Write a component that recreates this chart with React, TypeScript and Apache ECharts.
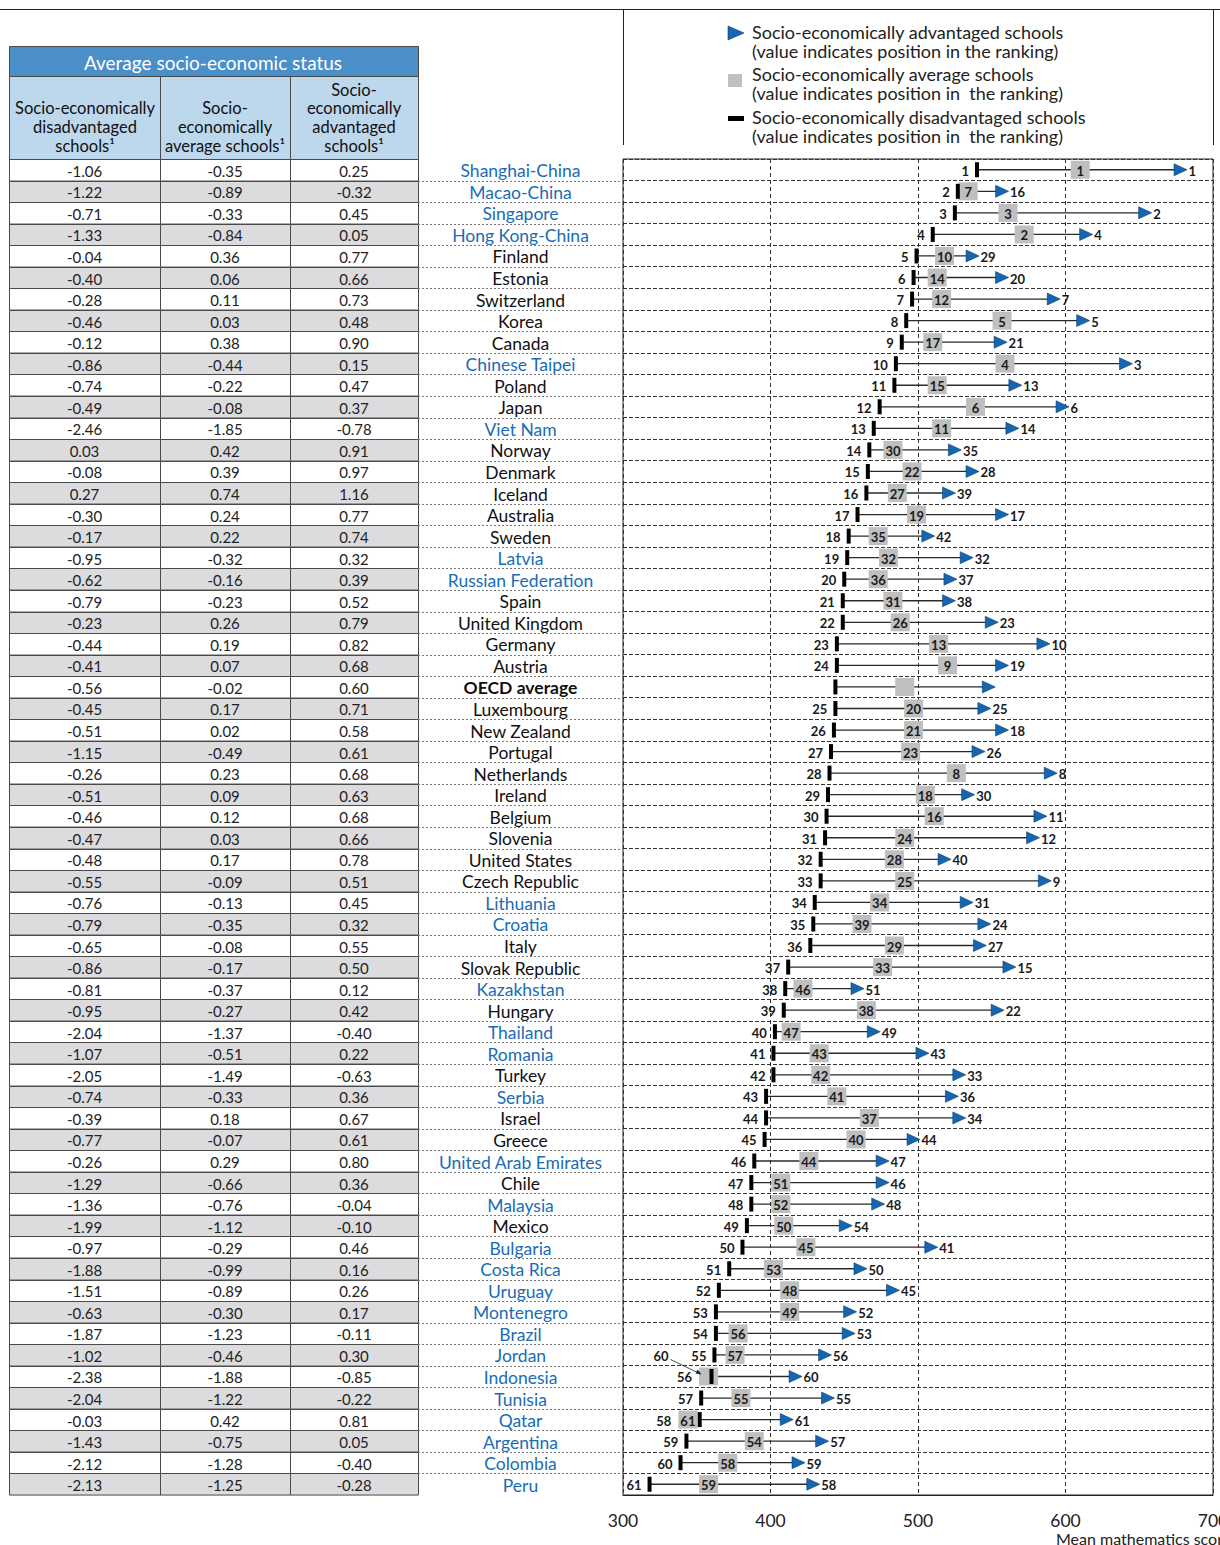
import { useEffect, useRef } from "react";
import * as echarts from "echarts";

const countries = [
  "Shanghai-China", "Macao-China", "Singapore", "Hong Kong-China", "Finland", "Estonia", "Switzerland", "Korea",
  "Canada", "Chinese Taipei", "Poland", "Japan", "Viet Nam", "Norway", "Denmark", "Iceland", "Australia", "Sweden",
  "Latvia", "Russian Federation", "Spain", "United Kingdom", "Germany", "Austria", "OECD average", "Luxembourg",
  "New Zealand", "Portugal", "Netherlands", "Ireland", "Belgium", "Slovenia", "United States", "Czech Republic",
  "Lithuania", "Croatia", "Italy", "Slovak Republic", "Kazakhstan", "Hungary", "Thailand", "Romania", "Turkey",
  "Serbia", "Israel", "Greece", "United Arab Emirates", "Chile", "Malaysia", "Mexico", "Bulgaria", "Costa Rica",
  "Uruguay", "Montenegro", "Brazil", "Jordan", "Indonesia", "Tunisia", "Qatar", "Argentina", "Colombia", "Peru",
];

const partners = [
  "Shanghai-China", "Macao-China", "Singapore", "Hong Kong-China", "Chinese Taipei", "Viet Nam", "Latvia",
  "Russian Federation", "Lithuania", "Croatia", "Kazakhstan", "Thailand", "Romania", "Serbia",
  "United Arab Emirates", "Malaysia", "Bulgaria", "Costa Rica", "Uruguay", "Montenegro", "Brazil", "Jordan",
  "Indonesia", "Tunisia", "Qatar", "Argentina", "Colombia", "Peru",
];

const escsDis = [
  -1.06, -1.22, -0.71, -1.33, -0.04, -0.40, -0.28, -0.46, -0.12, -0.86, -0.74, -0.49, -2.46, 0.03, -0.08, 0.27,
  -0.30, -0.17, -0.95, -0.62, -0.79, -0.23, -0.44, -0.41, -0.56, -0.45, -0.51, -1.15, -0.26, -0.51, -0.46, -0.47,
  -0.48, -0.55, -0.76, -0.79, -0.65, -0.86, -0.81, -0.95, -2.04, -1.07, -2.05, -0.74, -0.39, -0.77, -0.26, -1.29,
  -1.36, -1.99, -0.97, -1.88, -1.51, -0.63, -1.87, -1.02, -2.38, -2.04, -0.03, -1.43, -2.12, -2.13,
];
const escsAvg = [
  -0.35, -0.89, -0.33, -0.84, 0.36, 0.06, 0.11, 0.03, 0.38, -0.44, -0.22, -0.08, -1.85, 0.42, 0.39, 0.74,
  0.24, 0.22, -0.32, -0.16, -0.23, 0.26, 0.19, 0.07, -0.02, 0.17, 0.02, -0.49, 0.23, 0.09, 0.12, 0.03,
  0.17, -0.09, -0.13, -0.35, -0.08, -0.17, -0.37, -0.27, -1.37, -0.51, -1.49, -0.33, 0.18, -0.07, 0.29, -0.66,
  -0.76, -1.12, -0.29, -0.99, -0.89, -0.30, -1.23, -0.46, -1.88, -1.22, 0.42, -0.75, -1.28, -1.25,
];
const escsAdv = [
  0.25, -0.32, 0.45, 0.05, 0.77, 0.66, 0.73, 0.48, 0.90, 0.15, 0.47, 0.37, -0.78, 0.91, 0.97, 1.16,
  0.77, 0.74, 0.32, 0.39, 0.52, 0.79, 0.82, 0.68, 0.60, 0.71, 0.58, 0.61, 0.68, 0.63, 0.68, 0.66,
  0.78, 0.51, 0.45, 0.32, 0.55, 0.50, 0.12, 0.42, -0.40, 0.22, -0.63, 0.36, 0.67, 0.61, 0.80, 0.36,
  -0.04, -0.10, 0.46, 0.16, 0.26, 0.17, -0.11, 0.30, -0.85, -0.22, 0.81, 0.05, -0.40, -0.28,
];

const scoreDis = [
  540, 527, 525, 510, 499, 497, 496, 492, 489, 485, 484, 474, 470, 467, 466, 465, 459, 453, 452, 450, 449, 449,
  445, 445, 444, 444, 443, 441, 440, 439, 438, 437, 434, 434, 430, 429, 427, 412, 410, 409, 403, 402, 402, 397,
  397, 396, 389, 387, 387, 384, 381, 372, 365, 363, 363, 362, 360, 353, 352, 343, 339, 318,
];
const scoreAvg = [
  610, 534, 561, 572, 518, 513, 516, 557, 510, 559, 513, 539, 516, 483, 496, 486, 499, 473, 480, 473, 483, 488,
  514, 520, 491, 497, 497, 495, 526, 505, 511, 491, 484, 491, 474, 462, 484, 476, 422, 465, 414, 433, 434, 445,
  467, 458, 426, 407, 407, 409, 424, 402, 413, 413, 378, 376, 358, 380, 344, 389, 371, 358,
];
const scoreAdv = [
  678, 557, 654, 614, 537, 557, 592, 612, 556, 641, 566, 598, 564, 525, 537, 521, 557, 507, 533, 522, 521, 550,
  585, 557, 548, 545, 557, 541, 590, 534, 583, 578, 518, 586, 533, 545, 542, 562, 459, 554, 470, 503, 528, 523,
  528, 497, 476, 476, 473, 451, 509, 461, 483, 454, 453, 437, 417, 439, 411, 435, 419, 429,
];

const rankDis = [
  1, 2, 3, 4, 5, 6, 7, 8, 9, 10, 11, 12, 13, 14, 15, 16, 17, 18, 19, 20, 21, 22, 23, 24, null, 25, 26, 27, 28, 29,
  30, 31, 32, 33, 34, 35, 36, 37, 38, 39, 40, 41, 42, 43, 44, 45, 46, 47, 48, 49, 50, 51, 52, 53, 54, 55, 56, 57,
  58, 59, 60, 61,
];
const rankAvg = [
  1, 7, 3, 2, 10, 14, 12, 5, 17, 4, 15, 6, 11, 30, 22, 27, 19, 35, 32, 36, 31, 26, 13, 9, null, 20, 21, 23, 8, 18,
  16, 24, 28, 25, 34, 39, 29, 33, 46, 38, 47, 43, 42, 41, 37, 40, 44, 51, 52, 50, 45, 53, 48, 49, 56, 57, 60, 55,
  61, 54, 58, 59,
];
const rankAdv = [
  1, 16, 2, 4, 29, 20, 7, 5, 21, 3, 13, 6, 14, 35, 28, 39, 17, 42, 32, 37, 38, 23, 10, 19, null, 25, 18, 26, 8, 30,
  11, 12, 40, 9, 31, 24, 27, 15, 51, 22, 49, 43, 33, 36, 34, 44, 47, 46, 48, 54, 41, 50, 45, 52, 53, 56, 60, 55,
  61, 57, 59, 58,
];
const avgCalloutRows = ["Indonesia"];

const xTicks = [300, 400, 500, 600, 700];
const tableColumnEdges = [0, 151, 281, 409];
const headerTitle = "Average socio-economic status";
const headerCols = [
  ["Socio-economically", "disadvantaged", "schools\u00b9"],
  ["Socio-", "economically", "average schools\u00b9"],
  ["Socio-", "economically", "advantaged", "schools\u00b9"],
];
const legendItems = [
  ["Socio-economically advantaged schools", "(value indicates position in the ranking)"],
  ["Socio-economically average schools", "(value indicates position in  the ranking)"],
  ["Socio-economically disadvantaged schools", "(value indicates position in  the ranking)"],
];
const axisTitle = "Mean mathematics score";

const FONT = "Lato, 'Open Sans', sans-serif";
const BLUE = "#1a6cb4";
const TRI = "#1565b0";
const GRAY_SQ = "#bfbfbf";
const ROW_GRAY = "#dcdcde";
const TOP = 159;
const BOTTOM = 50;

function fmt(v: number) {
  return v.toFixed(2);
}

function buildOption() {
  const n = countries.length;
  const rowIdx = countries.map((_, i) => i);

  const tableSeries = {
    type: "custom",
    xAxisIndex: 0,
    yAxisIndex: 0,
    data: rowIdx.map((i) => [0, i]),
    encode: { x: 0, y: 1 },
    renderItem: (params: any, api: any) => {
      const i = params.dataIndex;
      const c = api.coord([0, i]);
      const h = api.size([0, 1])[1];
      const top = c[1] - h / 2;
      const vals = [escsDis[i], escsAvg[i], escsAdv[i]];
      const children: any[] = [];
      for (let k = 0; k < 3; k++) {
        const x0 = api.coord([tableColumnEdges[k], i])[0];
        const x1 = api.coord([tableColumnEdges[k + 1], i])[0];
        children.push({
          type: "rect",
          shape: { x: Math.round(x0) + 0.5, y: Math.round(top) + 0.5, width: Math.round(x1 - x0), height: h },
          style: { fill: i % 2 === 1 ? ROW_GRAY : "#ffffff", stroke: "#4a4a4a", lineWidth: 1 },
        });
        children.push({
          type: "text",
          style: {
            text: fmt(vals[k]),
            x: (x0 + x1) / 2,
            y: c[1] + 1,
            align: "center",
            verticalAlign: "middle",
            fontSize: 15,
            fontFamily: FONT,
            fill: "#222",
          },
        });
      }
      return { type: "group", children };
    },
  };

  const nameSeries = {
    type: "custom",
    xAxisIndex: 1,
    yAxisIndex: 1,
    data: rowIdx.map((i) => [0.5, i]),
    encode: { x: 0, y: 1 },
    renderItem: (params: any, api: any) => {
      const i = params.dataIndex;
      const c = api.coord([0.5, i]);
      const l = api.coord([0, i])[0];
      const r = api.coord([1, i])[0];
      const h = api.size([0, 1])[1];
      const name = countries[i];
      const isOecd = name === "OECD average";
      const children: any[] = [
        {
          type: "text",
          style: {
            text: name,
            x: c[0],
            y: c[1] + 1,
            align: "center",
            verticalAlign: "middle",
            fontSize: 17.5,
            fontWeight: isOecd ? "bold" : "normal",
            fontFamily: FONT,
            fill: partners.includes(name) ? BLUE : "#111",
          },
        },
      ];
      if (i < n - 1) {
        const yb = Math.round(c[1] + h / 2) + 0.5;
        children.push({
          type: "line",
          shape: { x1: l, y1: yb, x2: r, y2: yb },
          style: { stroke: "#777", lineWidth: 1, lineDash: [2, 2] },
        });
      }
      return { type: "group", children };
    },
  };

  const labelStyle = (text: string, x: number, y: number, align: string) => ({
    type: "text",
    style: {
      text,
      x,
      y: y + 1,
      align,
      verticalAlign: "middle",
      fontSize: 13,
      fontWeight: "bold",
      fontFamily: FONT,
      fill: "#1a1a1a",
    },
  });

  const plotSeries = {
    type: "custom",
    xAxisIndex: 2,
    yAxisIndex: 2,
    data: rowIdx.map((i) => [scoreDis[i], scoreAvg[i], scoreAdv[i], i]),
    encode: { x: [0, 1, 2], y: 3 },
    renderItem: (params: any, api: any) => {
      const i = params.dataIndex;
      const pd = api.coord([api.value(0), i]);
      const pa = api.coord([api.value(1), i]);
      const pv = api.coord([api.value(2), i]);
      const cy = pd[1];
      const ch: any[] = [];
      ch.push({
        type: "line",
        shape: { x1: pd[0], y1: cy, x2: pv[0], y2: cy },
        style: { stroke: "#2a2a2a", lineWidth: 1.3 },
      });
      const sqLeft = pa[0] - 9.5;
      ch.push({
        type: "rect",
        shape: { x: sqLeft, y: cy - 9, width: 19, height: 18 },
        style: { fill: GRAY_SQ },
      });
      const ra = rankAvg[i];
      if (ra != null) {
        if (avgCalloutRows.includes(countries[i])) {
          ch.push(labelStyle(String(ra), pa[0] - 40, cy - 21, "right"));
          ch.push({
            type: "line",
            shape: { x1: pa[0] - 38, y1: cy - 17, x2: pa[0] - 9, y2: cy - 3 },
            style: { stroke: "#222", lineWidth: 0.8 },
          });
          ch.push({
            type: "polygon",
            shape: { points: [[pa[0] - 7, cy - 2], [pa[0] - 13, cy - 3], [pa[0] - 11, cy - 7]] },
            style: { fill: "#222" },
          });
        } else {
          ch.push(labelStyle(String(ra), pa[0], cy, "center"));
        }
      }
      ch.push({
        type: "rect",
        shape: { x: pd[0] - 2, y: cy - 7.5, width: 4, height: 15 },
        style: { fill: "#000" },
      });
      ch.push({
        type: "polygon",
        shape: { points: [[pv[0] - 6.5, cy - 6], [pv[0] + 6.5, cy], [pv[0] - 6.5, cy + 6]] },
        style: { fill: TRI, stroke: "#0b3f72", lineWidth: 0.6 },
      });
      const rd = rankDis[i];
      if (rd != null) {
        const lx = sqLeft < pd[0] - 8 ? Math.min(pd[0] - 8, sqLeft - 7) : pd[0] - 8;
        ch.push(labelStyle(String(rd), lx, cy, "right"));
      }
      const rv = rankAdv[i];
      if (rv != null) ch.push(labelStyle(String(rv), pv[0] + 8, cy, "left"));
      return { type: "group", children: ch };
    },
  };

  const graphic: any[] = [
    { type: "line", shape: { x1: 0, y1: 9.5, x2: 1220, y2: 9.5 }, style: { stroke: "#222", lineWidth: 1 } },
    { type: "line", shape: { x1: 623.5, y1: 9, x2: 623.5, y2: 145 }, style: { stroke: "#222", lineWidth: 1 } },
    { type: "line", shape: { x1: 1213.5, y1: 9, x2: 1213.5, y2: 145 }, style: { stroke: "#222", lineWidth: 1 } },
    { type: "rect", shape: { x: 9.5, y: 46.5, width: 409, height: 30 }, style: { fill: "#4a8fc8", stroke: "#4a4a4a", lineWidth: 1 } },
    {
      type: "text",
      x: 213,
      y: 62,
      style: { text: headerTitle, align: "center", verticalAlign: "middle", fontSize: 19, fontFamily: FONT, fill: "#fff" },
    },
    { type: "rect", shape: { x: 9.5, y: 76.5, width: 409, height: 83 }, style: { fill: "#bdd7ec", stroke: "#4a4a4a", lineWidth: 1 } },
    { type: "line", shape: { x1: 160.5, y1: 77, x2: 160.5, y2: 159 }, style: { stroke: "#4a4a4a", lineWidth: 1 } },
    { type: "line", shape: { x1: 290.5, y1: 77, x2: 290.5, y2: 159 }, style: { stroke: "#4a4a4a", lineWidth: 1 } },
  ];
  const colCenters = [85, 225, 354];
  headerCols.forEach((lines, k) => {
    graphic.push({
      type: "text",
      x: colCenters[k],
      y: 155,
      style: {
        text: lines.join("\n"),
        align: "center",
        verticalAlign: "bottom",
        fontSize: 16.5,
        lineHeight: 18.7,
        fontFamily: FONT,
        fill: "#111",
      },
    });
  });
  graphic.push({ type: "polygon", shape: { points: [[728, 26], [744, 33], [728, 40]] }, style: { fill: TRI, stroke: "#0b3f72", lineWidth: 0.6 } });
  graphic.push({ type: "rect", shape: { x: 728, y: 74, width: 14, height: 13 }, style: { fill: GRAY_SQ } });
  graphic.push({ type: "rect", shape: { x: 728, y: 116, width: 16, height: 5 }, style: { fill: "#000" } });
  const legendY = [32, 74, 117];
  legendItems.forEach((lines, k) => {
    graphic.push({
      type: "text",
      x: 752,
      y: legendY[k] - 9.25,
      style: {
        text: lines.join("\n"),
        align: "left",
        verticalAlign: "top",
        fontSize: 18,
        lineHeight: 18.5,
        fontFamily: FONT,
        fill: "#222",
      },
    });
  });
  graphic.push({
    type: "text",
    x: 1056,
    y: 1538,
    style: { text: axisTitle, align: "left", verticalAlign: "middle", fontSize: 16, fontFamily: FONT, fill: "#222" },
  });

  const hiddenY = (gi: number) => ({
    gridIndex: gi,
    type: "category",
    data: countries,
    inverse: true,
    show: false,
  });

  return {
    animation: false,
    grid: [
      { left: 9, width: 409, top: TOP, bottom: BOTTOM, outerBoundsMode: "none" },
      { left: 418, width: 205, top: TOP, bottom: BOTTOM, outerBoundsMode: "none" },
      {
        left: 623,
        width: 590,
        top: TOP,
        bottom: BOTTOM,
        outerBoundsMode: "none",
        containLabel: false,
        show: true,
        borderColor: "#222",
        borderWidth: 1,
        backgroundColor: "transparent",
      },
    ],
    xAxis: [
      { gridIndex: 0, type: "value", min: 0, max: tableColumnEdges[3], show: false },
      { gridIndex: 1, type: "value", min: 0, max: 1, show: false },
      {
        gridIndex: 2,
        type: "value",
        min: xTicks[0],
        max: xTicks[xTicks.length - 1],
        interval: 100,
        axisLine: { show: true, lineStyle: { color: "#222" } },
        axisTick: { show: false },
        axisLabel: { fontSize: 17.5, color: "#222", fontFamily: FONT, margin: 16 },
        splitLine: { show: true, lineStyle: { color: "#333", type: [4, 3], width: 1 } },
      },
    ],
    yAxis: [
      hiddenY(0),
      hiddenY(1),
      {
        gridIndex: 2,
        type: "category",
        data: countries,
        inverse: true,
        axisLine: { show: false },
        axisTick: { show: false },
        axisLabel: { show: false },
        splitLine: { show: true, interval: 0, lineStyle: { color: "#333", type: [4, 2], width: 1 } },
      },
    ],
    series: [tableSeries, nameSeries, plotSeries],
    graphic,
  };
}

export default function App() {
  const ref = useRef<HTMLDivElement>(null);
  useEffect(() => {
    document.body.style.margin = "0";
    const chart = echarts.init(ref.current!, null, { renderer: "svg" });
    chart.setOption(buildOption() as any);
    return () => chart.dispose();
  }, []);
  return <div ref={ref} style={{ width: 1220, height: 1545, background: "#fff" }} />;
}
